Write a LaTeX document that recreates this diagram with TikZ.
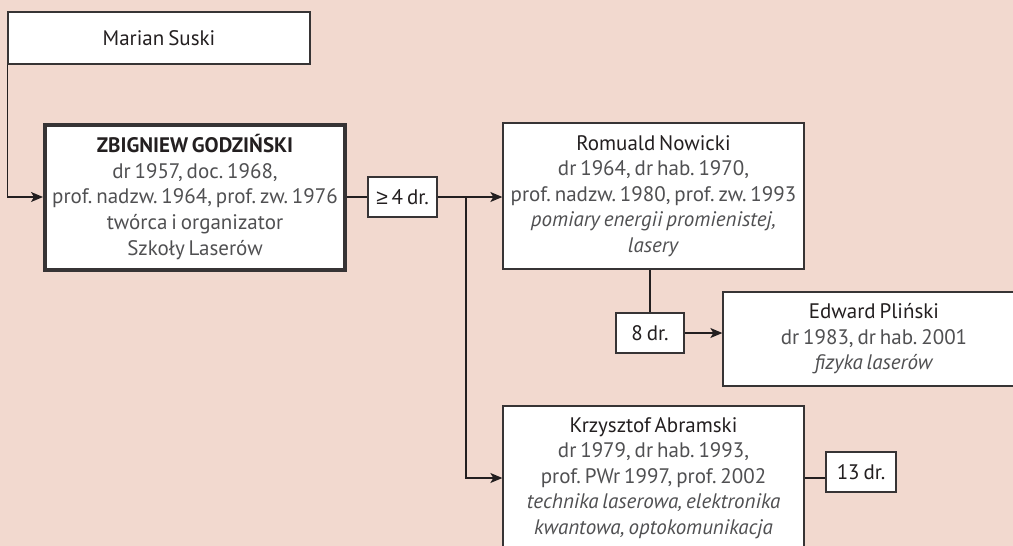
\documentclass[tikz,border=0pt]{standalone}
\usepackage{fontspec}
\setmainfont{PT Sans}[WordSpace=0.7]
\newfontfamily\znaki{Liberation Sans}
\frenchspacing
\usetikzlibrary{arrows.meta}
\definecolor{tlo}{RGB}{242,217,207}
\definecolor{ramka}{RGB}{55,52,53}
\definecolor{szary}{RGB}{80,80,82}
\definecolor{ciemny}{RGB}{35,31,32}
\tikzset{
	osoba/.style={draw=ramka, line width=1.3pt, fill=white, align=center, text=szary, inner sep=0pt, font=\fontsize{21}{25.6}\selectfont},
	liczba/.style={draw=ramka, line width=1.3pt, fill=white, text=ciemny, inner sep=0pt, minimum height=40, font=\fontsize{21}{24}\selectfont},
	strzalka/.style={draw=ciemny, line width=1.3pt, -{Stealth[length=12pt,width=10pt,inset=3pt]}},
	linia/.style={draw=ciemny, line width=1.3pt},
}
\newcommand{\imie}[1]{{\color{ciemny}#1}}
\begin{document}
\begin{tikzpicture}[x=1pt,y=-1pt]
		\useasboundingbox (0,0) rectangle (1013,546);
		\clip (0,0) rectangle (1013,546);
		\fill[tlo] (0,0) rectangle (1013,546);
		%
		\draw (159,38) node(suski) [osoba, minimum width=302, minimum height=52] {\imie{Marian Suski}};
		\draw (195,197) node(godz) [osoba, line width=4pt, minimum width=300, minimum height=145] {\imie{\textbf{ZBIGNIEW GODZIŃSKI}}\\dr 1957, doc. 1968,\\prof. nadzw. 1964, prof. zw. 1976\\twórca i organizator\\Szkoły Laserów};
		\draw (402.5,197) node(cztery) [liczba, minimum width=69] {{\znaki ≥} 4 dr.};
		%
		\draw (653.5,196) node(nowicki) [osoba, minimum width=301, minimum height=146] {\imie{Romuald Nowicki}\\dr 1964, dr hab. 1970,\\prof. nadzw. 1980, prof. zw. 1993\\\textit{pomiary energii promienistej,}\\\textit{lasery}};
		\draw (650,333) node(osiem) [liczba, minimum width=68] {8 dr.};
		\draw (874,339) node(plinski) [osoba, minimum width=302, minimum height=94] {\imie{Edward Pliński}\\dr 1983, dr hab. 2001\\\textit{fizyka laserów}};
		%
		\draw (653.5,478) node(abramski) [osoba, minimum width=301, minimum height=144] {\imie{Krzysztof Abramski}\\dr 1979, dr hab. 1993,\\prof. PWr 1997, prof. 2002\\\textit{technika laserowa, elektronika}\\\textit{kwantowa, optokomunikacja}};
		\draw (861,472) node(trzynascie) [liczba, minimum width=70] {13 dr.};
		%
		\draw [strzalka] (suski.south west) |- (godz.west);
		\draw [linia] (godz.east) -- (cztery.west);
		\draw [strzalka] (cztery.east) -- (cztery.east -| nowicki.west);
		\coordinate (rozga) at (466,197);
		\draw [strzalka] (rozga) |- (abramski.west);
		\draw [linia] (nowicki.south -| osiem.north) -- (osiem.north);
		\draw [strzalka] (osiem.east) -- (osiem.east -| plinski.west);
		\draw [linia] (abramski.east) -- (abramski.east -| trzynascie.west);
	\end{tikzpicture}
\end{document}
